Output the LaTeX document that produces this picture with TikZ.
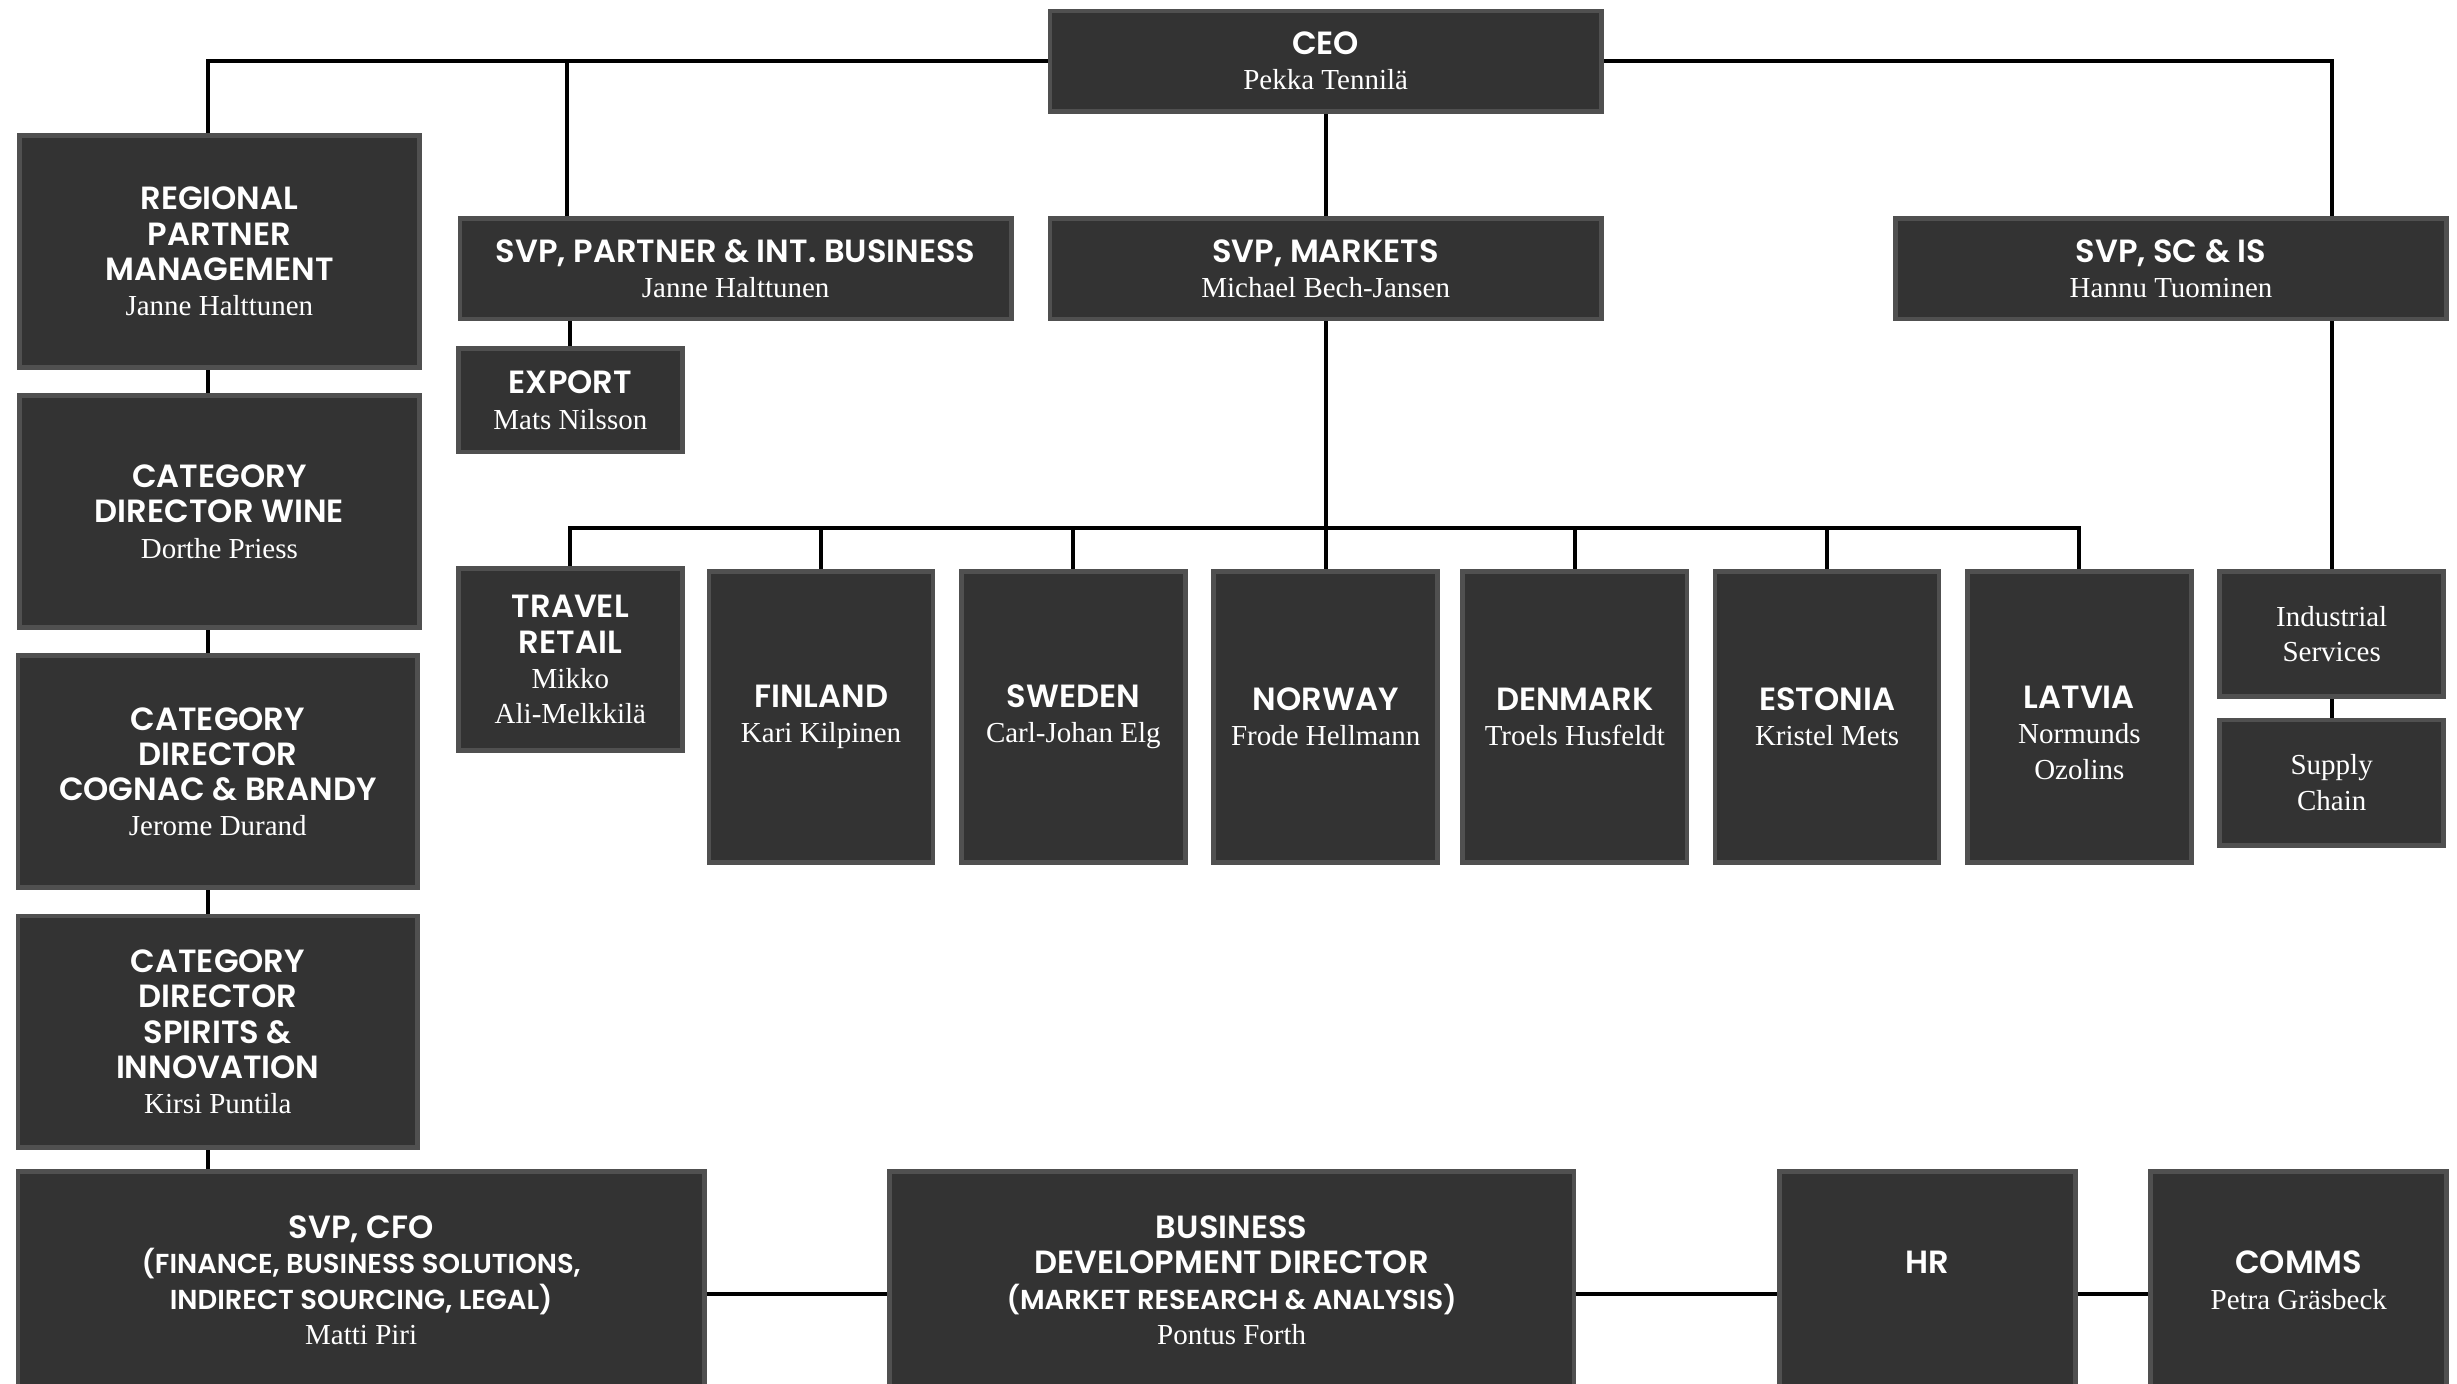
\documentclass[tikz,border=0pt]{standalone}
\usepackage{fontspec}
\usetikzlibrary{backgrounds}
\setmainfont{Liberation Serif}
\newfontfamily\headfont{Poppins}[UprightFont={* SemiBold}]
\definecolor{boxfill}{HTML}{333333}
\definecolor{boxline}{HTML}{505050}
% heading, sub-heading and name lines inside the boxes
\newcommand\hd[1]{{\headfont\fontsize{20.5}{22.5}\selectfont #1}}
\newcommand\sh[1]{{\headfont\fontsize{17.5}{21}\selectfont #1}}
\newcommand\nm[1]{{\fontsize{18.5}{22.5}\selectfont #1}}
\tikzset{
  box/.style={draw=boxline, fill=boxfill, line width=3pt, text=white,
    align=center, inner sep=0pt, font=\fontsize{20}{22.5}\selectfont},
  link/.style={line width=2.6pt, black},
}
\begin{document}
\begin{tikzpicture}[x=1pt, y=-1pt]
\useasboundingbox (0,0) rectangle (1568,883);

% ---- boxes ----
\node[box, minimum width=352pt, minimum height=64pt] (ceo) at (846,39)
  {\hd{CEO}\\\nm{Pekka Tennilä}};

\node[box, minimum width=255pt, minimum height=148pt] (rpm) at (140,160.5)
  {\hd{REGIONAL}\\\hd{PARTNER}\\\hd{MANAGEMENT}\\\nm{Janne Halttunen}};
\node[box, minimum width=255pt, minimum height=148pt] (cdw) at (140,326.5)
  {\hd{CATEGORY}\\\hd{DIRECTOR WINE}\\\nm{Dorthe Priess}};
\node[box, minimum width=255pt, minimum height=148pt] (cdcb) at (139,492.5)
  {\hd{CATEGORY}\\\hd{DIRECTOR}\\\hd{COGNAC \& BRANDY}\\\nm{Jerome Durand}};
\node[box, minimum width=255pt, minimum height=148pt] (cdsi) at (139,658.5)
  {\hd{CATEGORY}\\\hd{DIRECTOR}\\\hd{SPIRITS \&}\\\hd{INNOVATION}\\\nm{Kirsi Puntila}};

\node[box, minimum width=438pt, minimum height=139pt] (cfo) at (230.5,817)
  {\hd{SVP, CFO}\\\sh{(FINANCE, BUSINESS SOLUTIONS,}\\\sh{INDIRECT SOURCING, LEGAL)}\\\nm{Matti Piri}};
\node[box, minimum width=437pt, minimum height=139pt] (bdd) at (786,817)
  {\hd{BUSINESS}\\\hd{DEVELOPMENT DIRECTOR}\\\sh{(MARKET RESEARCH \& ANALYSIS)}\\\nm{Pontus Forth}};
\node[box, minimum width=189pt, minimum height=139pt] (hr) at (1230,817)
  {\hd{HR}\\\nm{\phantom{P}}};
\node[box, minimum width=189pt, minimum height=139pt] (comms) at (1467,817)
  {\hd{COMMS}\\\nm{Petra Gräsbeck}};

\node[box, minimum width=352pt, minimum height=64pt] (spi) at (469.5,171.5)
  {\hd{SVP, PARTNER \& INT. BUSINESS}\\\nm{Janne Halttunen}};
\node[box, minimum width=143pt, minimum height=66pt] (exp) at (364,255.5)
  {\hd{EXPORT}\\\nm{Mats Nilsson}};
\node[box, minimum width=352pt, minimum height=64pt] (mkt) at (846,171.5)
  {\hd{SVP, MARKETS}\\\nm{Michael Bech-Jansen}};
\node[box, minimum width=352pt, minimum height=64pt] (scis) at (1385.5,171.5)
  {\hd{SVP, SC \& IS}\\\nm{Hannu Tuominen}};

\node[box, minimum width=143pt, minimum height=116pt] (tr) at (364,421)
  {\hd{TRAVEL}\\\hd{RETAIL}\\\nm{Mikko}\\\nm{Ali-Melkkilä}};
\node[box, minimum width=143pt, minimum height=186pt] (fin) at (524,457.5)
  {\hd{FINLAND}\\\nm{Kari Kilpinen}};
\node[box, minimum width=143pt, minimum height=186pt] (swe) at (685,457.5)
  {\hd{SWEDEN}\\\nm{Carl-Johan Elg}};
\node[box, minimum width=143pt, minimum height=186pt] (nor) at (846,457.5)
  {\hd{NORWAY}\\\nm{Frode Hellmann}};
\node[box, minimum width=143pt, minimum height=186pt] (den) at (1005,457.5)
  {\hd{DENMARK}\\\nm{Troels Husfeldt}};
\node[box, minimum width=143pt, minimum height=186pt] (est) at (1166,457.5)
  {\hd{ESTONIA}\\\nm{Kristel Mets}};
\node[box, minimum width=143pt, minimum height=186pt] (lat) at (1327,457.5)
  {\nm{\phantom{X}}\\\hd{LATVIA}\\\nm{Normunds}\\\nm{Ozolins}};

\node[box, minimum width=143pt, minimum height=80pt] (ind) at (1488,404.5)
  {\nm{Industrial}\\\nm{Services}};
\node[box, minimum width=143pt, minimum height=80pt] (sup) at (1488,499.5)
  {\nm{Supply}\\\nm{Chain}};

% ---- connectors, behind the boxes ----
\begin{scope}[on background layer]
  \fill[white] (0,0) rectangle (1568,883);
  \coordinate (bus) at (0,337);
  % CEO to its direct reports along the top rail
  \draw[link] (ceo.west) -| ([xshift=-7pt]rpm.north);
  \draw[link] ([xshift=-107.5pt]spi.north) |- (ceo.west);
  \draw[link] (ceo.east) -| (scis.north -| ind.north);
  \draw[link] (scis.south -| ind.north) -- (ind.north);
  \draw[link] (ind.south) -- (sup.north);
  % markets line and country rail
  \draw[link] (ceo.south) -- (mkt.north);
  \draw[link] (mkt.south) -- (nor.north);
  \draw[link] (tr.north) |- (bus -| lat.north) -- (lat.north);
  \foreach \c in {fin,swe,nor,den,est}
    \draw[link] (\c.north) -- (\c.north |- bus);
  % export under partner business
  \draw[link] (exp.north) -- (exp.north |- spi.south);
  % left column chain
  \draw[link] ([xshift=-7pt]rpm.south) -- ([xshift=-7pt]rpm.south |- cdw.north);
  \draw[link] ([xshift=-7pt]cdw.south) -- ([xshift=-7pt]cdw.south |- cdcb.north);
  \draw[link] ([xshift=-6pt]cdcb.south) -- ([xshift=-6pt]cdcb.south |- cdsi.north);
  \draw[link] ([xshift=-6pt]cdsi.south) -- ([xshift=-6pt]cdsi.south |- cfo.north);
  % bottom row
  \draw[link] ([yshift=-9pt]cfo.east) -- ([yshift=-9pt]bdd.west);
  \draw[link] ([yshift=-9pt]bdd.east) -- ([yshift=-9pt]hr.west);
  \draw[link] ([yshift=-9pt]hr.east) -- ([yshift=-9pt]comms.west);
\end{scope}
\end{tikzpicture}
\end{document}
